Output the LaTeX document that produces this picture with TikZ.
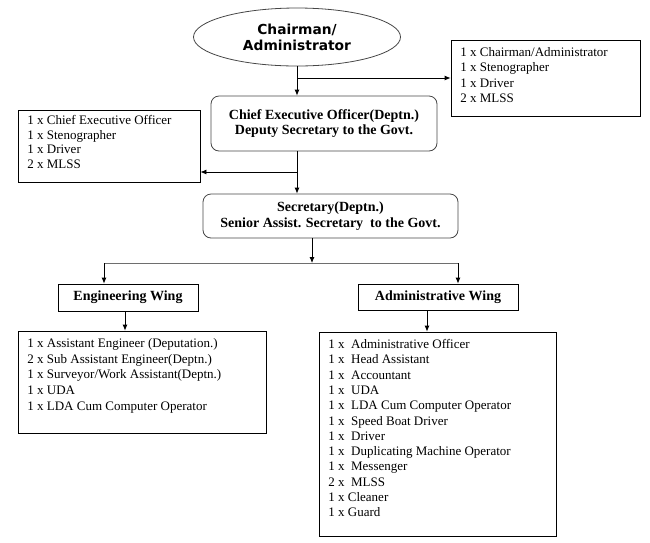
\documentclass[tikz,border=0pt]{standalone}
\usepackage{fontspec}
\setmainfont{Liberation Serif}
\newfontfamily\headfont{DejaVu Sans}
\usetikzlibrary{arrows.meta, shapes.geometric, positioning, calc}
\definecolor{color1}{RGB}{70,70,70}
\definecolor{color2}{RGB}{110,110,110}

\begin{document}
\begin{tikzpicture}[x=1pt,y=-1pt,line width=0.8pt,
		head/.style={ellipse,draw=color1,minimum width=207pt,minimum height=58pt,inner sep=0pt,align=center,font=\headfont\bfseries\fontsize{13.8}{16}\selectfont},
		post/.style={draw=color1,rounded corners=8pt,inner sep=0pt,align=center,font=\bfseries\fontsize{14}{15.5}\selectfont},
		wing/.style={draw=black,inner sep=0pt,font=\bfseries\fontsize{14}{15}\selectfont},
		staffbox/.style={draw=black,inner sep=0pt},
		stafflist/.style={anchor=north west,inner sep=0pt,align=left,font=\fontsize{13}{15.3}\selectfont},
		arr/.style={-{Latex[length=6pt,width=5pt]}},
		wire/.style={draw=color2}]
		\useasboundingbox (0,0) rectangle (650,542);
		
		\node[head] (chair) at (297,37) {Chairman/\\Administrator};
		\node[post,minimum width=226pt,minimum height=55pt] (ceo) at (324,123.5) {Chief Executive Officer(Deptn.)\\Deputy Secretary to the Govt.};
		\node[post,minimum width=255pt,minimum height=44pt,font=\bfseries\fontsize{14}{16}\selectfont] (sec) at (330.5,216) {Secretary(Deptn.)\\Senior Assist. Secretary~ to the Govt.};
		
		\node[staffbox,minimum width=189pt,minimum height=76pt] (topstaff) at (545.5,78) {};
		\node[stafflist] (toplist) at (460,47) {1 x Chairman/Administrator\\1 x Stenographer\\1 x Driver\\2 x MLSS};
		\node[staffbox,minimum width=182pt,minimum height=72pt] (ceostaff) at (109,146) {};
		\node[stafflist,font=\fontsize{13}{14.5}\selectfont] (ceolist) at (27,115) {1 x Chief Executive Officer\\1 x Stenographer\\1 x Driver\\2 x MLSS};
		
		\node[wing,minimum width=140pt,minimum height=27pt] (engwing) at (128,297.5) {Engineering Wing};
		\node[wing,minimum width=160pt,minimum height=26pt] (admwing) at (438,297) {Administrative Wing};
		
		\node[staffbox,minimum width=248pt,minimum height=102pt] (engstaff) at (142,382) {};
		\node[stafflist,font=\fontsize{13}{15.7}\selectfont] (englist) at (27,338) {1 x Assistant Engineer (Deputation.)\\2 x Sub Assistant Engineer(Deptn.)\\1 x Surveyor/Work Assistant(Deptn.)\\1 x UDA\\1 x LDA Cum Computer Operator};
		\node[staffbox,minimum width=237pt,minimum height=204pt] (admstaff) at (437.5,434) {};
		\node[stafflist] (admlist) at (328,339) {1 x~~Administrative Officer\\1 x~~Head Assistant\\1 x~~Accountant\\1 x~~UDA\\1 x~~LDA Cum Computer Operator\\1 x~~Speed Boat Driver\\1 x~~Driver\\1 x~~Duplicating Machine Operator\\1 x~~Messenger\\2 x~~MLSS\\1 x Cleaner\\1 x Guard};
		
		\coordinate (ceoturn) at (297,172);
		\coordinate (split) at (312,263);
		\coordinate (engturn) at (104,263);
		\coordinate (admturn) at (458,263);
		
		\draw[arr] (chair.south) -- (chair.south |- ceo.north);
		\draw[arr] (chair.south |- topstaff.west) -- (topstaff.west);
		\draw[arr] (chair.south |- ceo.south) -- (chair.south |- sec.north);
		\draw[arr] (ceoturn) -- (ceoturn -| ceostaff.east);
		\draw[arr] (split |- sec.south) -- (split);
		\draw[wire] (engturn) -- (admturn);
		\draw[arr] (engturn) -- (engturn |- engwing.north);
		\draw[arr] (admturn) -- (admturn |- admwing.north);
		\draw[arr] ([xshift=-3pt]engwing.south) -- ([xshift=-3pt]engwing.south |- engstaff.north);
		\draw[arr] ([xshift=-11pt]admwing.south) -- ([xshift=-11pt]admwing.south |- admstaff.north);
		
	\end{tikzpicture}
\end{document}
